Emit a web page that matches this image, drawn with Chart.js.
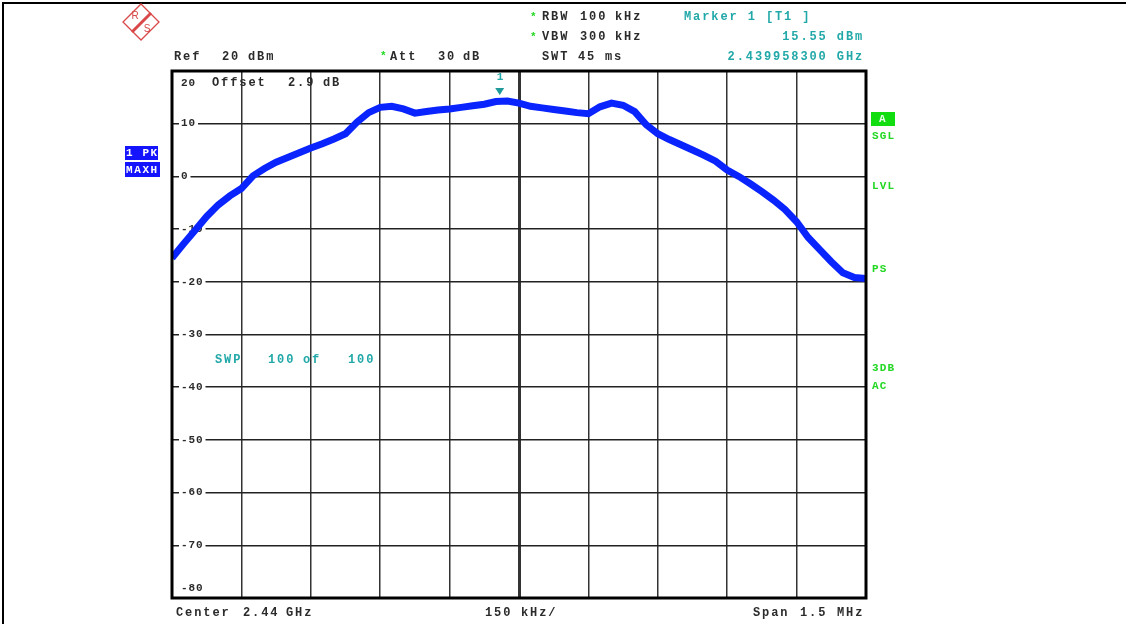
<!DOCTYPE html>
<html>
<head>
<meta charset="utf-8">
<script src="https://cdn.jsdelivr.net/npm/chart.js@4.4.1/dist/chart.umd.min.js"></script>
<style>
  body { margin: 0; background: #fff; }
  canvas { display: block; }
</style>
</head>
<body>
<canvas id="chart" width="1126" height="624"></canvas>
<script>
// frequency offset from the 2.44 GHz center, kHz (25 kHz steps over the 1.5 MHz span)
const freqOffsetKHz = [
  -750, -725, -700, -675, -650, -625, -600, -575, -550, -525, -500,
  -475, -450, -425, -400, -375, -350, -325, -300, -275, -250,
  -225, -200, -175, -150, -125, -100, -75, -50, -25, 0,
  25, 50, 75, 100, 125, 150, 175, 200, 225, 250,
  275, 300, 325, 350, 375, 400, 425, 450, 475, 500,
  525, 550, 575, 600, 625, 650, 675, 700, 725, 750
];
// trace 1 (PK, MAXH), dBm
const levelDbm = [
  -15.5, -12.8, -10.2, -7.6, -5.4, -3.7, -2.3, 0.1, 1.5, 2.7, 3.6,
  4.5, 5.4, 6.2, 7.1, 8.1, 10.3, 12.1, 13.1, 13.3, 12.8,
  12.0, 12.3, 12.6, 12.8, 13.1, 13.4, 13.7, 14.2, 14.3, 13.9,
  13.3, 13.0, 12.7, 12.4, 12.1, 11.9, 13.2, 13.9, 13.5, 12.3,
  9.8, 8.1, 7.0, 6.0, 5.0, 4.0, 2.9, 1.2, 0.0, -1.4,
  -2.9, -4.5, -6.3, -8.6, -11.6, -13.9, -16.2, -18.3, -19.2, -19.4
];
const yTicks = [20, 10, 0, -10, -20, -30, -40, -50, -60, -70, -80];
const markerFreqKHz = -41.7;
const markerLevel = 15.55;

const BLACK = '#2b2b2b';
const TEAL = '#22a8a8';
const GREEN = '#22d822';
const FONT = 'bold 12px "Liberation Mono", "DejaVu Sans Mono", monospace';
const SMALL = 'bold 11px "Liberation Mono", "DejaVu Sans Mono", monospace';

// fixed pitch text, like the analyzer's screen font
function mono(c, s, x, y, color, pitch, font) {
  c.font = font || FONT;
  c.fillStyle = color;
  c.textBaseline = 'middle';
  c.textAlign = 'left';
  for (let i = 0; i < s.length; i++) c.fillText(s[i], x + i * pitch, y);
}
function monoRight(c, s, xr, y, color, pitch, font) {
  mono(c, s, xr - (s.length - 1) * pitch - 7, y, color, pitch, font);
}

const overlay = {
  id: 'overlay',
  beforeDatasetsDraw(chart) {
    const c = chart.ctx, ys = chart.scales.y;
    c.save();
    yTicks.forEach(v => {
      let py = ys.getPixelForValue(v);
      if (v === 20) py += 12;
      if (v === -80) py -= 10;
      const s = String(v);
      c.fillStyle = '#fff';
      c.fillRect(179, py - 5, s.length * 7.5 + 4, 10);
      mono(c, s, 181, py, BLACK, 7.5, SMALL);
    });
    c.restore();
  },
  afterDraw(chart) {
    const c = chart.ctx, a = chart.chartArea;
    const xs = chart.scales.x, ys = chart.scales.y;
    c.save();
    // plot frame
    c.strokeStyle = '#000';
    c.lineWidth = 3;
    c.strokeRect(a.left, a.top, a.right - a.left, a.bottom - a.top);
    // page border
    c.lineWidth = 2;
    c.beginPath();
    c.moveTo(3, 624); c.lineTo(3, 3); c.lineTo(1126, 3);
    c.stroke();

    // marker 1
    const mx = xs.getPixelForValue(markerFreqKHz);
    const my = ys.getPixelForValue(markerLevel);
    c.fillStyle = '#1e9a9a';
    c.beginPath();
    c.moveTo(mx - 4.5, my - 6.5); c.lineTo(mx + 4.5, my - 6.5); c.lineTo(mx, my + 0.5);
    c.closePath(); c.fill();
    mono(c, '1', mx - 3, my - 17, TEAL, 9.1, SMALL);

    // header
    mono(c, '*', 530, 17, GREEN, 9.1, SMALL);
    mono(c, 'RBW', 542, 17, BLACK, 9.1);
    mono(c, '100', 580, 17, BLACK, 9.1);
    mono(c, 'kHz', 615, 17, BLACK, 9.1);
    mono(c, '*', 530, 37, GREEN, 9.1, SMALL);
    mono(c, 'VBW', 542, 37, BLACK, 9.1);
    mono(c, '300', 580, 37, BLACK, 9.1);
    mono(c, 'kHz', 615, 37, BLACK, 9.1);
    mono(c, 'SWT', 542, 57, BLACK, 9.1);
    mono(c, '45', 578, 57, BLACK, 9.1);
    mono(c, 'ms', 605, 57, BLACK, 9.1);
    mono(c, 'Ref', 174, 57, BLACK, 9.1);
    mono(c, '20', 222, 57, BLACK, 9.1);
    mono(c, 'dBm', 248, 57, BLACK, 9.1);
    mono(c, '*', 380, 56, GREEN, 9.1, SMALL);
    mono(c, 'Att', 390, 57, BLACK, 9.1);
    mono(c, '30', 438, 57, BLACK, 9.1);
    mono(c, 'dB', 463, 57, BLACK, 9.1);
    mono(c, 'Marker 1 [T1 ]', 684, 17, TEAL, 9.1);
    monoRight(c, '15.55 dBm', 862, 37, TEAL, 9.1);
    monoRight(c, '2.439958300 GHz', 862, 57, TEAL, 9.1);

    // inside the grid
    mono(c, 'Offset', 212, 83, BLACK, 9.1);
    mono(c, '2.9', 288, 83, BLACK, 9.1);
    mono(c, 'dB', 323, 83, BLACK, 9.1);
    mono(c, 'SWP', 215, 360, TEAL, 9.1);
    mono(c, '100', 268, 360, TEAL, 9.1);
    mono(c, 'of', 303, 360, TEAL, 9.1);
    mono(c, '100', 348, 360, TEAL, 9.1);

    // footer
    mono(c, 'Center', 176, 613, BLACK, 9.1);
    mono(c, '2.44', 243, 613, BLACK, 9.1);
    mono(c, 'GHz', 286, 613, BLACK, 9.1);
    mono(c, '150', 485, 613, BLACK, 9.1);
    mono(c, 'kHz/', 521, 613, BLACK, 9.1);
    mono(c, 'Span', 753, 613, BLACK, 9.1);
    mono(c, '1.5', 800, 613, BLACK, 9.1);
    mono(c, 'MHz', 837, 613, BLACK, 9.1);

    // trace badges on the left
    c.fillStyle = '#1414ff';
    c.fillRect(125, 146, 33, 14);
    c.fillRect(125, 162, 35, 15);
    mono(c, '1 PK', 126, 153.5, '#fff', 8.2, SMALL);
    mono(c, 'MAXH', 126, 170, '#fff', 8.2, SMALL);

    // status column on the right
    c.fillStyle = '#11dd11';
    c.fillRect(871, 112, 24, 14);
    mono(c, 'A', 879, 119, '#eaffea', 7.8, SMALL);
    mono(c, 'SGL', 872, 136, GREEN, 7.8, SMALL);
    mono(c, 'LVL', 872, 186, GREEN, 7.8, SMALL);
    mono(c, 'PS', 872, 269, GREEN, 7.8, SMALL);
    mono(c, '3DB', 872, 368, GREEN, 7.8, SMALL);
    mono(c, 'AC', 872, 386, GREEN, 7.8, SMALL);

    // R&S logo
    c.strokeStyle = '#d84848';
    c.lineWidth = 1.3;
    c.beginPath();
    c.moveTo(141, 4); c.lineTo(159, 22); c.lineTo(141, 40); c.lineTo(123, 22);
    c.closePath(); c.stroke();
    c.lineWidth = 3;
    c.beginPath(); c.moveTo(151, 13); c.lineTo(132, 32); c.stroke();
    c.fillStyle = '#d84848';
    c.font = '10px "Liberation Sans", sans-serif';
    c.textAlign = 'center';
    c.fillText('R', 135, 16);
    c.fillText('S', 147, 29);
    c.restore();
  }
};

const ctx = document.getElementById('chart').getContext('2d');
const chart = new Chart(ctx, {
  type: 'line',
  data: {
    datasets: [{
      label: '1 PK MAXH',
      data: freqOffsetKHz.map((f, i) => ({ x: f, y: levelDbm[i] })),
      borderColor: '#0a24ff',
      borderWidth: 7,
      pointRadius: 0,
      tension: 0,
      fill: false
    }]
  },
  options: {
    responsive: false,
    devicePixelRatio: 1,
    animation: false,
    layout: { padding: { left: 172, right: 260, top: 71, bottom: 26 } },
    plugins: { legend: { display: false }, tooltip: { enabled: false } },
    scales: {
      x: {
        type: 'linear', min: -750, max: 750,
        ticks: { display: false, stepSize: 150 },
        grid: {
          drawTicks: false,
          color: '#333',
          lineWidth: c => (c.tick && c.tick.value === 0 ? 3 : 1.5)
        },
        border: { display: false }
      },
      y: {
        min: -80, max: 20,
        ticks: { display: false, stepSize: 10 },
        grid: { drawTicks: false, color: '#222', lineWidth: 1.5 },
        border: { display: false }
      }
    }
  },
  plugins: [overlay]
});
</script>
</body>
</html>
